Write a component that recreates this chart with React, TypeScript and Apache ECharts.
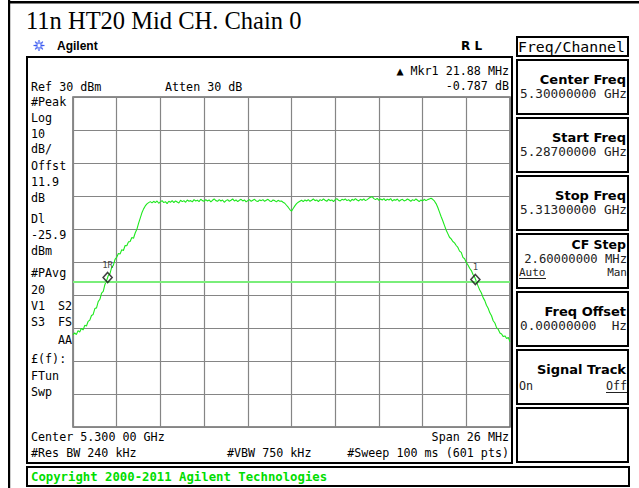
import React, { useEffect, useRef } from 'react';
import * as echarts from 'echarts';

const TITLE = '11n HT20 Mid CH. Chain 0';
const REF_LEVEL_DBM = 30;
const BOTTOM_LEVEL_DBM = -70;
const DB_PER_DIV = 10;
const SPAN_HALF_MHZ = 13; // span 26 MHz around 5.300 GHz
const SWEEP_START_MHZ = -13;
const SWEEP_STEP_MHZ = 0.1;
// trace level (dBm) at each 0.1 MHz sweep step, from -13 MHz to +13 MHz
const leftSkirt = [
  -42.1, -41.5, -42.0, -40.8, -41.2, -40.1, -40.6, -39.2, -39.4, -38.0,
  -37.6, -36.2, -35.9, -34.1, -33.9, -32.0, -31.3, -29.4, -28.9, -26.8,
  -25.6, -24.1, -23.5, -21.6, -21.0, -19.2, -18.6, -17.4, -17.6, -16.3,
  -16.5, -15.0, -15.1, -13.9, -13.8, -12.6, -12.8, -11.2, -10.1, -8.3,
  -6.7, -5.1, -3.9, -3.0, -2.4, -2.0, -1.7,
];
const plateau = [
  -2.1, -1.6, -2.0, -1.5, -2.2, -1.8, -1.4, -2.0, -1.7, -2.3,
  -1.6, -1.9, -1.4, -2.0, -1.5, -1.8, -2.1, -1.3, -1.7, -1.4,
  -1.9, -1.2, -1.6, -1.4, -1.8, -1.1, -1.5, -1.3, -1.7, -1.0,
  -1.4, -1.6, -1.1, -1.5, -1.2, -1.8, -1.3, -0.9, -1.4, -1.6,
  -1.1, -1.5, -1.2, -1.9, -1.4, -1.1, -1.6, -1.3, -0.9, -1.5,
  -1.2, -1.7, -1.3, -1.0, -1.5, -1.2, -1.8, -1.4, -1.1, -1.6,
  -1.3, -1.0, -1.5, -1.7, -1.2, -1.4, -1.1, -1.6, -1.3, -1.0,
  -1.5, -1.7, -1.2, -1.4, -1.8, -1.3, -1.6, -1.5, -1.9, -2.2,
  -2.8, -3.4, -4.1, -4.6, -3.8, -3.0, -2.3, -1.9, -1.6, -1.3,
  -1.7, -1.2, -1.5, -1.1, -1.6, -1.3, -0.9, -1.4, -1.2, -1.7,
  -1.1, -1.4, -0.9, -1.3, -1.6, -1.0, -1.4, -1.2, -1.7, -1.1,
  -0.8, -1.3, -1.5, -1.0, -1.2, -0.9, -1.4, -1.1, -1.6, -1.0,
  -1.3, -0.8, -1.2, -1.5, -1.0, -1.3, -0.9, -1.4, -1.1, -0.7,
  -0.4, -0.2, -0.8, -1.1, -0.7, -1.3, -0.9, -1.2, -0.8, -1.4,
  -1.0, -1.2, -0.8, -1.5, -1.1, -1.3, -0.9, -1.6, -1.2, -1.0,
  -1.5, -1.3, -0.9, -1.2, -1.6, -1.1, -1.4, -0.9, -1.3, -1.7,
  -1.2, -1.5, -1.0, -1.4, -1.1, -0.9, -0.7, -1.0,
];
const rightSkirt = [
  -1.5, -2.3, -3.4, -4.8, -6.2, -7.5, -8.9, -10.3, -11.4, -12.5,
  -13.0, -13.8, -14.2, -15.0, -15.6, -16.7, -17.1, -18.6, -19.0, -20.2,
  -20.9, -21.9, -22.6, -23.8, -24.6, -25.9, -27.3, -28.5, -29.4, -30.8,
  -31.7, -33.1, -34.0, -35.4, -36.3, -37.8, -38.5, -39.9, -40.4, -41.5,
  -41.8, -42.6, -42.4, -43.2, -42.9, -44.2,
];
const DISPLAY_LINE_DBM = -25.9;
const markerNames = ['1R', '1'];
const markerOffsetsMHz = [-10.94, 10.94];
const markerLevels = [-24.7, -25.3];

const leftNotes: [string, number][] = [
  ['#Peak', 102], ['Log', 118], ['10', 134], ['dB/', 149], ['Offst', 166],
  ['11.9', 182], ['dB', 198], ['Dl', 219], ['-25.9', 235], ['dBm', 251],
  ['#PAvg', 273], ['20', 290], ['V1', 306], ['S3', 322], ['£(f):', 359],
  ['FTun', 376], ['Swp', 392],
];
const leftNotesRight: [string, number][] = [['S2', 306], ['FS', 322], ['AA', 340]];

const softkeyTops = [60, 118, 176, 234, 292, 350, 408];
const softkeyLabels = ['Center Freq', 'Start Freq', 'Stop Freq', 'CF Step', 'Freq Offset', 'Signal Track', ''];
const softkeyValues = ['5.30000000 GHz', '5.28700000 GHz', '5.31300000 GHz', '2.60000000 MHz', '0.00000000  Hz', '', ''];

const MONO = "'DejaVu Sans Mono', monospace";
const SANS_B = "'DejaVu Sans', sans-serif";

function txt(x: number, y: number, text: string, o: any = {}) {
  return {
    type: 'text',
    x,
    y,
    silent: true,
    z: 10,
    style: {
      text,
      fill: o.fill || '#000',
      fontSize: o.size || 11.7,
      fontFamily: o.family || MONO,
      fontWeight: o.weight || 'normal',
      align: o.align || 'left',
      verticalAlign: 'middle',
    },
  };
}
function rect(x: number, y: number, w: number, h: number, lw = 2, stroke = '#000') {
  return {
    type: 'rect',
    silent: true,
    z: 9,
    shape: { x, y, width: w, height: h },
    style: { fill: 'none', stroke, lineWidth: lw },
  };
}
function line(x1: number, y1: number, x2: number, y2: number, stroke = '#000', lw = 1) {
  return {
    type: 'line',
    silent: true,
    z: 10,
    shape: { x1, y1, x2, y2 },
    style: { stroke, lineWidth: lw },
  };
}

export default function App() {
  const ref = useRef<HTMLDivElement>(null);
  useEffect(() => {
    const chart = echarts.init(ref.current!, null, { renderer: 'svg' });
    const traceLevels = [...leftSkirt, ...plateau, ...rightSkirt];
    const traceData = traceLevels.map((v, i) => [
      Math.round((SWEEP_START_MHZ + i * SWEEP_STEP_MHZ) * 100) / 100,
      v,
    ]);
    const markerData = markerNames.map((n, i) => ({
      name: n,
      value: [markerOffsetsMHz[i], markerLevels[i]],
    }));

    const graphics: any[] = [];
    // page borders
    graphics.push({ type: 'rect', silent: true, shape: { x: 8, y: 1, width: 631, height: 2.5 }, style: { fill: '#000' } });
    graphics.push({ type: 'rect', silent: true, shape: { x: 8, y: 0, width: 2.2, height: 488 }, style: { fill: '#000' } });
    graphics.push(txt(26, 20.5, TITLE, { family: "'Liberation Serif', 'Times New Roman', serif", size: 24.5 }));
    // Agilent logo
    const cx = 39, cy = 45.5;
    for (let k = 0; k < 8; k++) {
      const a = (k * Math.PI) / 4;
      graphics.push(line(cx + Math.cos(a) * 1.5, cy + Math.sin(a) * 1.5, cx + Math.cos(a) * 5.5, cy + Math.sin(a) * 5.5, '#3b5bf0', 1.2));
    }
    for (let k = 0; k < 8; k++) {
      const a = (k * Math.PI) / 4 + Math.PI / 8;
      graphics.push(line(cx + Math.cos(a) * 2, cy + Math.sin(a) * 2, cx + Math.cos(a) * 4, cy + Math.sin(a) * 4, '#8fa0f8', 1));
    }
    graphics.push(txt(57, 46, 'Agilent', { family: "'Liberation Sans', Arial, sans-serif", weight: 'bold', size: 12 }));
    graphics.push(txt(461, 46, 'R L', { family: SANS_B, weight: 'bold', size: 12 }));

    // main screen frame
    graphics.push(rect(27, 57, 485, 406));
    graphics.push(txt(31, 87, 'Ref 30 dBm'));
    graphics.push(txt(165, 87, 'Atten 30 dB'));
    graphics.push(txt(509, 71, '\u25B2 Mkr1 21.88 MHz', { align: 'right' }));
    graphics.push(txt(509, 86, '-0.787 dB', { align: 'right' }));
    leftNotes.forEach(([t, y]) => graphics.push(txt(31, y, t)));
    leftNotesRight.forEach(([t, y]) => graphics.push(txt(72, y, t, { align: 'right' })));
    graphics.push(txt(31, 437, 'Center 5.300 00 GHz'));
    graphics.push(txt(509, 437, 'Span 26 MHz', { align: 'right' }));
    graphics.push(txt(31, 453, '#Res BW 240 kHz'));
    graphics.push(txt(227, 453, '#VBW 750 kHz'));
    graphics.push(txt(509, 453, '#Sweep 100 ms (601 pts)', { align: 'right' }));

    // copyright bar
    graphics.push(rect(27, 467, 602, 19));
    graphics.push(txt(31, 476.5, 'Copyright 2000-2011 Agilent Technologies', { fill: '#00dd00', weight: 'bold', size: 12.3 }));

    // right panel
    graphics.push(rect(517, 37, 111, 19));
    graphics.push(txt(518, 46.5, 'Freq/Channel', { size: 14.8 }));
    softkeyTops.forEach((top, i) => {
      graphics.push(rect(517, top, 111, 54));
      const lab = softkeyLabels[i];
      if (!lab) return;
      if (lab === 'CF Step') {
        graphics.push(txt(626, top + 10, lab, { family: SANS_B, weight: 'bold', size: 12.5, align: 'right' }));
        graphics.push(txt(627, top + 25, softkeyValues[i], { size: 12.2, align: 'right', fill: '#222' }));
        graphics.push(txt(519, top + 38.5, 'Auto', { size: 11, fill: '#222' }));
        graphics.push(line(519, top + 44.5, 546, top + 44.5, '#222', 1));
        graphics.push(txt(627, top + 38.5, 'Man', { size: 11, align: 'right', fill: '#222' }));
      } else if (lab === 'Signal Track') {
        graphics.push(txt(626, top + 19, lab, { family: SANS_B, weight: 'bold', size: 13, align: 'right' }));
        graphics.push(txt(519, top + 36, 'On', { size: 11.7, fill: '#222' }));
        graphics.push(txt(627, top + 36, 'Off', { size: 11.7, align: 'right', fill: '#222' }));
        graphics.push(line(606, top + 42.5, 627, top + 42.5, '#222', 1));
      } else {
        graphics.push(txt(626, top + 19, lab, { family: SANS_B, weight: 'bold', size: 13, align: 'right' }));
        graphics.push(txt(627, top + 33, softkeyValues[i], { size: 12.7, align: 'right', fill: '#222' }));
      }
    });

    chart.setOption({
      animation: false,
      backgroundColor: '#ffffff',
      grid: {
        left: 73,
        top: 97,
        width: 437,
        height: 330,
        show: true,
        borderColor: '#6a6a6a',
        borderWidth: 1.5,
        backgroundColor: '#ffffff',
      },
      xAxis: {
        type: 'value',
        min: -SPAN_HALF_MHZ,
        max: SPAN_HALF_MHZ,
        interval: 2.6,
        axisLine: { show: false },
        axisTick: { show: false },
        axisLabel: { show: false },
        splitLine: { show: true, lineStyle: { color: '#858585', width: 1.2 } },
      },
      yAxis: {
        type: 'value',
        min: BOTTOM_LEVEL_DBM,
        max: REF_LEVEL_DBM,
        interval: DB_PER_DIV,
        axisLine: { show: false },
        axisTick: { show: false },
        axisLabel: { show: false },
        splitLine: { show: true, lineStyle: { color: '#858585', width: 1.2 } },
      },
      series: [
        {
          type: 'line',
          data: traceData,
          showSymbol: false,
          symbol: 'none',
          lineStyle: { color: '#1ee81e', width: 1.1 },
          silent: true,
          z: 3,
          markLine: {
            silent: true,
            symbol: ['none', 'none'],
            label: { show: false },
            lineStyle: { color: '#7aee7a', width: 2, type: 'solid' },
            data: [{ yAxis: DISPLAY_LINE_DBM }],
          },
        },
        {
          type: 'scatter',
          data: markerData,
          symbol: 'diamond',
          symbolSize: [9, 10],
          z: 5,
          itemStyle: { color: 'rgba(0,0,0,0)', borderColor: '#111', borderWidth: 1.6 },
          label: {
            show: true,
            position: 'top',
            distance: 2,
            formatter: (p: any) => p.name,
            fontSize: 9,
            fontFamily: MONO,
            color: '#111',
          },
        },
      ],
      graphic: graphics,
    });
    return () => chart.dispose();
  }, []);
  return (
    <div
      ref={ref}
      style={{ position: 'fixed', left: 0, top: 0, width: 639, height: 488, background: '#fff' }}
    />
  );
}
